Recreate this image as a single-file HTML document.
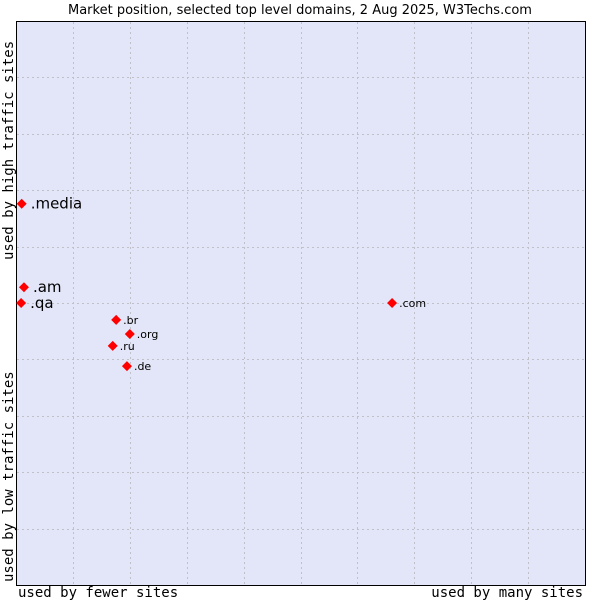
<!DOCTYPE html>
<html><head><meta charset="utf-8"><style>
body{margin:0;background:#fff;width:600px;height:600px;overflow:hidden}
svg{display:block}
text{font-family:"DejaVu Sans","Liberation Sans",sans-serif}
text.mono{font-family:"DejaVu Sans Mono","Liberation Mono",monospace}
</style></head><body>
<svg id="chart" width="600" height="600">
<text x="300" y="14" text-anchor="middle" font-size="13" fill="#000">Market position, selected top level domains, 2 Aug 2025, W3Techs.com</text>
<rect x="16.5" y="21.5" width="569" height="564" fill="#e3e5f8" stroke="#000" stroke-width="1"/>
<g id="grid"></g>
<g id="points"></g>
<text class="mono" x="18" y="597" font-size="14">used by fewer sites</text>
<text class="mono" x="583" y="597" text-anchor="end" font-size="14">used by many sites</text>
<text class="mono" transform="translate(13,260) rotate(-90)" font-size="14">used by high traffic sites</text>
<text class="mono" transform="translate(13,582) rotate(-90)" font-size="14">used by low traffic sites</text>
</svg>
<script>
const domains=[".media",".am",".qa",".com",".br",".org",".ru",".de"];
const xVals=[1.0,1.4,0.9,66.1,17.6,20.0,17.0,19.5];
const yVals=[67.6,52.8,50.0,50.0,47.0,44.5,42.4,38.8];
const bigLabel=[true,true,true,false,false,false,false,false];
const L=16,T=21,W=569,H=564;
const sx=v=>L+v/100*W, sy=v=>T+H-v/100*H;
const ns="http://www.w3.org/2000/svg";
const g=document.getElementById('grid');
for(let i=1;i<10;i++){
  const v=document.createElementNS(ns,'line');
  
  
  const x=Math.round(sx(i*10))+0.5;
  v.setAttribute('x1',x);v.setAttribute('x2',x);v.setAttribute('y1',T+1);v.setAttribute('y2',T+H);
  v.setAttribute('stroke','#c0c0c8');v.setAttribute('stroke-dasharray','2,3');g.appendChild(v);
  const h=document.createElementNS(ns,'line');
  
  
  const y=Math.round(sy(i*10))+0.5;
  h.setAttribute('y1',y);h.setAttribute('y2',y);h.setAttribute('x1',L+1);h.setAttribute('x2',L+W);
  h.setAttribute('stroke','#c0c0c8');h.setAttribute('stroke-dasharray','2,3');g.appendChild(h);
}
const p=document.getElementById('points');
domains.forEach((d,i)=>{
  const x=sx(xVals[i]),y=sy(yVals[i]);
  const m=document.createElementNS(ns,'polygon');
  
  
  m.setAttribute('points',`${x},${y-5} ${x+5},${y} ${x},${y+5} ${x-5},${y}`);
  m.setAttribute('fill','#ff0000');p.appendChild(m);
  const t=document.createElementNS(ns,'text');
  
  
  t.setAttribute('x',x+(bigLabel[i]?9:7));t.setAttribute('y',y+(bigLabel[i]?5:4));
  t.setAttribute('font-size',bigLabel[i]?15:11);
  t.textContent=d;p.appendChild(t);
});
</script>
</body></html>
